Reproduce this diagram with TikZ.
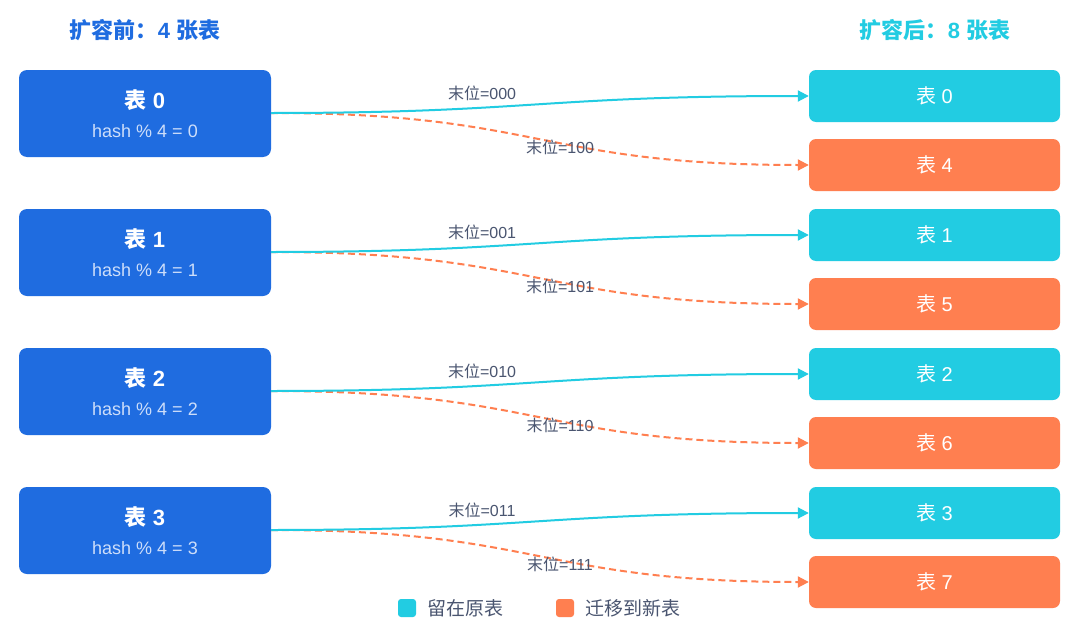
\documentclass[tikz,border=0pt]{standalone}
\usepackage{fontspec}
\setmainfont{Liberation Sans}
\newfontfamily\cjk{Noto Sans CJK SC}
\usetikzlibrary{arrows.meta,calc}
\definecolor{oldblue}{RGB}{31,108,224}
\definecolor{keepc}{RGB}{34,204,226}
\definecolor{movec}{RGB}{255,127,80}
\definecolor{lbl}{RGB}{74,85,112}
\definecolor{subt}{RGB}{205,222,250}
\tikzset{
  oldbox/.style={draw=none,fill=oldblue,rounded corners=8pt,minimum width=252pt,minimum height=87pt,inner sep=0pt},
  keepbox/.style={draw=none,fill=keepc,rounded corners=7pt,minimum width=251pt,minimum height=52pt,inner sep=0pt,text=white,font=\fontsize{20}{24}\selectfont},
  movebox/.style={draw=none,fill=movec,rounded corners=7pt,minimum width=251pt,minimum height=52pt,inner sep=0pt,text=white,font=\fontsize{20}{24}\selectfont},
  oldtitle/.style={text=white,font=\fontsize{22}{26}\selectfont\bfseries},
  oldsub/.style={text=subt,font=\fontsize{18}{21}\selectfont},
  keepline/.style={draw=keepc,line width=2pt,-{Triangle[length=11pt,width=11pt]}},
  moveline/.style={draw=movec,line width=2pt,dash pattern=on 7pt off 4pt,-{Triangle[length=11pt,width=11pt]}},
  edgelbl/.style={text=lbl,font=\fontsize{16}{19}\selectfont,inner sep=1pt},
  head/.style={font=\fontsize{22}{26}\selectfont\bfseries},
  legsq/.style={rounded corners=3pt,minimum width=18pt,minimum height=18pt,inner sep=0pt},
  legtxt/.style={text=lbl,font=\fontsize{19}{22}\selectfont,anchor=west,inner sep=0pt}
}
\begin{document}
\begin{tikzpicture}[x=1pt,y=-1pt]
\useasboundingbox[fill=white] (0,0) rectangle (1080,637);
\node[head,text=oldblue] (h1) at (145,30) {{\cjk 扩容前：}4 {\cjk 张表}};
\node[head,text=keepc] (h2) at (935,30) {{\cjk 扩容后：}8 {\cjk 张表}};
\foreach \i/\a/\b/\k/\m in {0/000/100/0/4,1/001/101/1/5,2/010/110/2/6,3/011/111/3/7}{
  \node[oldbox] (L\i) at (145,113.5+139*\i) {};
  \node[oldtitle] (L\i t) at (145,100+139*\i) {{\cjk 表} \i};
  \node[oldsub] (L\i s) at (145,131+139*\i) {hash \% 4 = \i};
  \node[keepbox] (K\i) at (934.5,96+139*\i) {{\cjk 表} \k};
  \node[movebox] (M\i) at (934.5,165+139*\i) {{\cjk 表} \m};
  \coordinate (S\i) at (271,113+139*\i);
  \draw[moveline] (S\i) .. controls ($(S\i)+(270,0)$) and ($(M\i.west)+(-270,0)$) .. (M\i.west)
     node[edgelbl,pos=0.55,yshift=-4pt] (ml\i) {{\cjk 末位}=\b};
  \draw[keepline] (S\i) .. controls ($(S\i)+(260,0)$) and ($(K\i.west)+(-270,0)$) .. (K\i.west)
     node[edgelbl,pos=0.37,above=5pt] (kl\i) {{\cjk 末位}=\a};
}
\node[legsq,fill=keepc] (lg1) at (407,608) {};
\node[legtxt] (lt1) at (427,608) {\cjk 留在原表};
\node[legsq,fill=movec] (lg2) at (565,608) {};
\node[legtxt] (lt2) at (585,608) {\cjk 迁移到新表};
\end{tikzpicture}
\end{document}
